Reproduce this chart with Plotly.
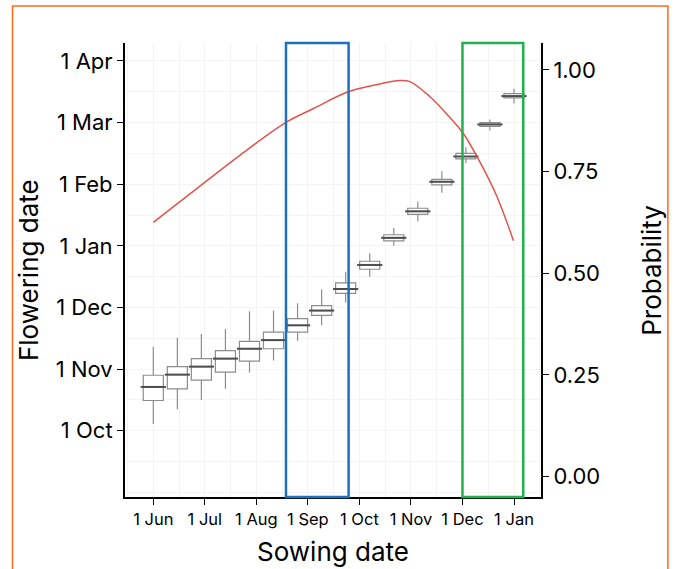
import plotly.graph_objects as go

# x: months after 1 Jun (ticks evenly spaced as in the source), y: months after 1 Oct
SOW = [0.0, 0.467, 0.933, 1.4, 1.867, 2.333, 2.8, 3.267,
       3.733, 4.2, 4.667, 5.133, 5.6, 6.067, 6.533, 7.0]
LOWER = [0.11, 0.35, 0.50, 0.68, 0.94, 1.14, 1.46, 1.71,
         2.08, 2.50, 3.00, 3.40, 3.86, 4.34, 4.87, 5.31]
Q1 = [0.49, 0.68, 0.82, 0.95, 1.13, 1.33, 1.60, 1.87,
      2.23, 2.62, 3.08, 3.51, 3.99, 4.41, 4.94, 5.40]
MEDIAN = [0.71, 0.91, 1.04, 1.17, 1.33, 1.47, 1.71, 1.95,
          2.30, 2.69, 3.13, 3.56, 4.04, 4.45, 4.97, 5.43]
Q3 = [0.90, 1.04, 1.17, 1.30, 1.45, 1.60, 1.82, 2.03,
      2.40, 2.75, 3.18, 3.61, 4.08, 4.50, 5.00, 5.47]
UPPER = [1.36, 1.51, 1.57, 1.65, 1.94, 1.95, 2.07, 2.29,
         2.58, 2.88, 3.29, 3.72, 4.21, 4.60, 5.05, 5.55]

# probability curve
CURVE_X = [0.0, 0.71, 1.68, 2.59, 3.11, 3.78, 4.27, 4.79,
           4.98, 5.37, 5.69, 6.02, 6.34, 6.66, 6.99]
CURVE_P = [0.625, 0.695, 0.790, 0.872, 0.905, 0.946, 0.962, 0.974,
           0.971, 0.934, 0.892, 0.843, 0.773, 0.691, 0.580]

X_TICKS = ["1 Jun", "1 Jul", "1 Aug", "1 Sep", "1 Oct", "1 Nov", "1 Dec", "1 Jan"]
Y_TICKS = ["1 Oct", "1 Nov", "1 Dec", "1 Jan", "1 Feb", "1 Mar", "1 Apr"]
P_TICKS = ["0.00", "0.25", "0.50", "0.75", "1.00"]

# highlighted sowing windows (x0, x1)
BLUE_WIN = (2.575, 3.79)
GREEN_WIN = (6.0, 7.18)

FONT = "Inter, Noto Sans, Arial, sans-serif"
GRID = "#f4f4f4"

fig = go.Figure()

fig.add_trace(go.Box(
    x=SOW, q1=Q1, median=MEDIAN, q3=Q3,
    lowerfence=LOWER, upperfence=UPPER,
    width=0.39, whiskerwidth=0,
    fillcolor="white", line=dict(color="#8c8c8c", width=1.2),
    showlegend=False, hoverinfo="skip",
))
# darker, thicker median bars
fig.add_trace(go.Scatter(
    x=SOW, y=MEDIAN, mode="markers",
    marker=dict(symbol="line-ew", size=18, line=dict(width=2, color="#4d4d4d")),
    showlegend=False, hoverinfo="skip",
))
fig.add_trace(go.Scatter(
    x=CURVE_X, y=CURVE_P, yaxis="y2", mode="lines",
    line=dict(color="#e3524c", width=1.5, shape="spline"),
    showlegend=False,
))

for (x0, x1), col in [(BLUE_WIN, "#1f6fbf"), (GREEN_WIN, "#22b14c")]:
    fig.add_shape(type="rect", xref="x", yref="paper", x0=x0, x1=x1, y0=0, y1=1,
                  line=dict(color=col, width=2.5), fillcolor="rgba(0,0,0,0)")

# orange frame around the whole panel
fig.add_shape(type="rect", xref="paper", yref="paper",
              x0=-0.2704, x1=1.305, y0=-0.2, y1=1.0815,
              line=dict(color="#ff6a1a", width=1.5))

# axis titles as annotations so they sit exactly where the source has them
for text, x, y, ang in [("Flowering date", -0.233, 0.5, -90),
                        ("Probability", 1.264, 0.5, -90),
                        ("Sowing date", 0.5, -0.119, 0)]:
    fig.add_annotation(text=text, xref="paper", yref="paper", x=x, y=y,
                       xanchor="center", yanchor="middle", textangle=ang,
                       showarrow=False, font=dict(size=26, color="black"))

axis_common = dict(
    showline=True, linecolor="black", linewidth=2,
    ticks="outside", ticklen=6, tickcolor="black", tickwidth=1.2,
    zeroline=False, automargin=False,
)

fig.update_layout(
    width=675, height=569,
    paper_bgcolor="white", plot_bgcolor="white",
    font=dict(family=FONT, color="black"),
    margin=dict(l=125, r=134, t=43, b=72),
    xaxis=dict(
        **axis_common, range=[-0.549, 7.524],
        showgrid=True, gridcolor=GRID, gridwidth=1,
        tickvals=list(range(len(X_TICKS))), ticktext=X_TICKS,
        tickfont=dict(size=16.5),
        minor=dict(dtick=0.5, tick0=0, showgrid=True, gridcolor=GRID),
    ),
    yaxis=dict(
        **axis_common, range=[-1.076, 6.292],
        showgrid=True, gridcolor=GRID, gridwidth=1,
        tickvals=list(range(len(Y_TICKS))), ticktext=Y_TICKS,
        tickfont=dict(size=22),
        minor=dict(dtick=0.5, tick0=0, showgrid=True, gridcolor=GRID),
    ),
    yaxis2=dict(
        **axis_common, overlaying="y", side="right", range=[-0.050, 1.066],
        showgrid=False,
        tickvals=[0, 0.25, 0.5, 0.75, 1.0], ticktext=P_TICKS,
        tickfont=dict(size=22),
    ),
)

# drop the page's default body margin so the figure fills the window exactly
fig.write_html("out.html", config={"displayModeBar": False},
               post_script="document.body.style.margin='0';")
